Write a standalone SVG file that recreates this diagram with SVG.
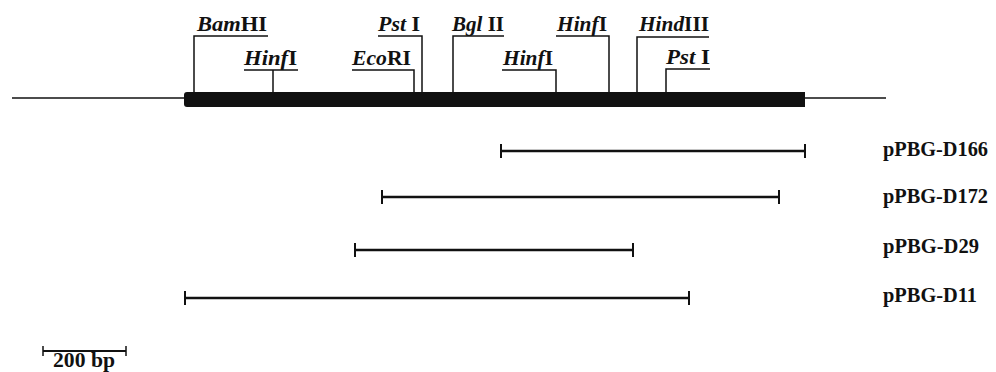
<svg xmlns="http://www.w3.org/2000/svg" width="996" height="372" viewBox="0 0 996 372">
<style>
  .lbl { font-family: "Liberation Serif", "Times New Roman", serif; font-size: 22px; font-weight: bold; fill: #111; }
  .it { font-style: italic; }
  .ul { stroke: #111; stroke-width: 1.5; fill: none; }
  .dna { stroke: #111; stroke-width: 1.6; fill: none; }
  .frag { stroke: #111; stroke-width: 2.4; fill: none; }
  .tick { stroke: #111; stroke-width: 2; fill: none; }
  .clone { font-family: "Liberation Serif", "Times New Roman", serif; font-size: 21px; font-weight: bold; fill: #111; }
  .scale { font-family: "Liberation Serif", "Times New Roman", serif; font-size: 20px; font-weight: bold; fill: #111; }
</style>
<rect width="996" height="372" fill="#fff"/>

<g id="map">
  <line class="dna" x1="12" y1="98" x2="186" y2="98"/>
  <line class="dna" x1="803" y1="98" x2="886" y2="98"/>
  <path d="M187,92 H805 V107 H187 Q184,107 184,104 V95 Q184,92 187,92 Z" fill="#111"/>
</g>

<g id="connectors">
  <polyline class="ul" points="268,36 194,36 194,92"/>
  <polyline class="ul" points="244,70 298,70"/>
  <line class="ul" x1="273" y1="70" x2="273" y2="92"/>
  <polyline class="ul" points="352,70 414,70 414,92"/>
  <polyline class="ul" points="378,36 422,36 422,92"/>
  <polyline class="ul" points="504,36 453,36 453,92"/>
  <polyline class="ul" points="502,70 556,70 556,92"/>
  <polyline class="ul" points="556,36 609,36 609,92"/>
  <polyline class="ul" points="709,37 637,37 637,92"/>
  <polyline class="ul" points="710,69 666,69 666,92"/>
</g>

<g id="site-BamHI"><text class="lbl" x="197" y="31" textLength="70" lengthAdjust="spacingAndGlyphs"><tspan class="it">Bam</tspan>HI</text></g>
<g id="site-HinfI-1"><text class="lbl" x="244" y="65" textLength="53" lengthAdjust="spacingAndGlyphs"><tspan class="it">Hinf</tspan>I</text></g>
<g id="site-EcoRI"><text class="lbl" x="352" y="65" textLength="59" lengthAdjust="spacingAndGlyphs"><tspan class="it">Eco</tspan>RI</text></g>
<g id="site-PstI-1"><text class="lbl" x="378" y="31" textLength="42" lengthAdjust="spacingAndGlyphs"><tspan class="it">Pst</tspan> I</text></g>
<g id="site-BglII"><text class="lbl" x="452" y="31" textLength="52" lengthAdjust="spacingAndGlyphs"><tspan class="it">Bgl</tspan> II</text></g>
<g id="site-HinfI-2"><text class="lbl" x="503" y="65" textLength="50" lengthAdjust="spacingAndGlyphs"><tspan class="it">Hinf</tspan>I</text></g>
<g id="site-HinfI-3"><text class="lbl" x="557" y="31" textLength="50" lengthAdjust="spacingAndGlyphs"><tspan class="it">Hinf</tspan>I</text></g>
<g id="site-HindIII"><text class="lbl" x="639" y="31" textLength="70" lengthAdjust="spacingAndGlyphs"><tspan class="it">Hind</tspan>III</text></g>
<g id="site-PstI-2"><text class="lbl" x="666" y="64" textLength="44" lengthAdjust="spacingAndGlyphs"><tspan class="it">Pst</tspan> I</text></g>

<g id="clone-D166">
  <line class="frag" x1="501" y1="151" x2="805" y2="151"/>
  <line class="tick" x1="501" y1="144" x2="501" y2="158"/>
  <line class="tick" x1="805" y1="144" x2="805" y2="158"/>
  <text class="clone" x="883" y="156" textLength="105" lengthAdjust="spacingAndGlyphs">pPBG-D166</text>
</g>
<g id="clone-D172">
  <line class="frag" x1="382" y1="197" x2="779" y2="197"/>
  <line class="tick" x1="382" y1="190" x2="382" y2="204"/>
  <line class="tick" x1="779" y1="190" x2="779" y2="204"/>
  <text class="clone" x="883" y="203" textLength="105" lengthAdjust="spacingAndGlyphs">pPBG-D172</text>
</g>
<g id="clone-D29">
  <line class="frag" x1="355" y1="250" x2="633" y2="250"/>
  <line class="tick" x1="355" y1="243" x2="355" y2="257"/>
  <line class="tick" x1="633" y1="243" x2="633" y2="257"/>
  <text class="clone" x="883" y="253" textLength="96" lengthAdjust="spacingAndGlyphs">pPBG-D29</text>
</g>
<g id="clone-D11">
  <line class="frag" x1="185" y1="298" x2="689" y2="298"/>
  <line class="tick" x1="185" y1="291" x2="185" y2="305"/>
  <line class="tick" x1="689" y1="291" x2="689" y2="305"/>
  <text class="clone" x="883" y="302" textLength="94" lengthAdjust="spacingAndGlyphs">pPBG-D11</text>
</g>

<g id="scale-bar">
  <line class="tick" x1="43" y1="351" x2="126" y2="351"/>
  <line class="ul" x1="43" y1="346" x2="43" y2="356"/>
  <line class="ul" x1="126" y1="346" x2="126" y2="356"/>
  <text class="scale" x="53" y="367" textLength="62" lengthAdjust="spacingAndGlyphs">200 bp</text>
</g>
</svg>
